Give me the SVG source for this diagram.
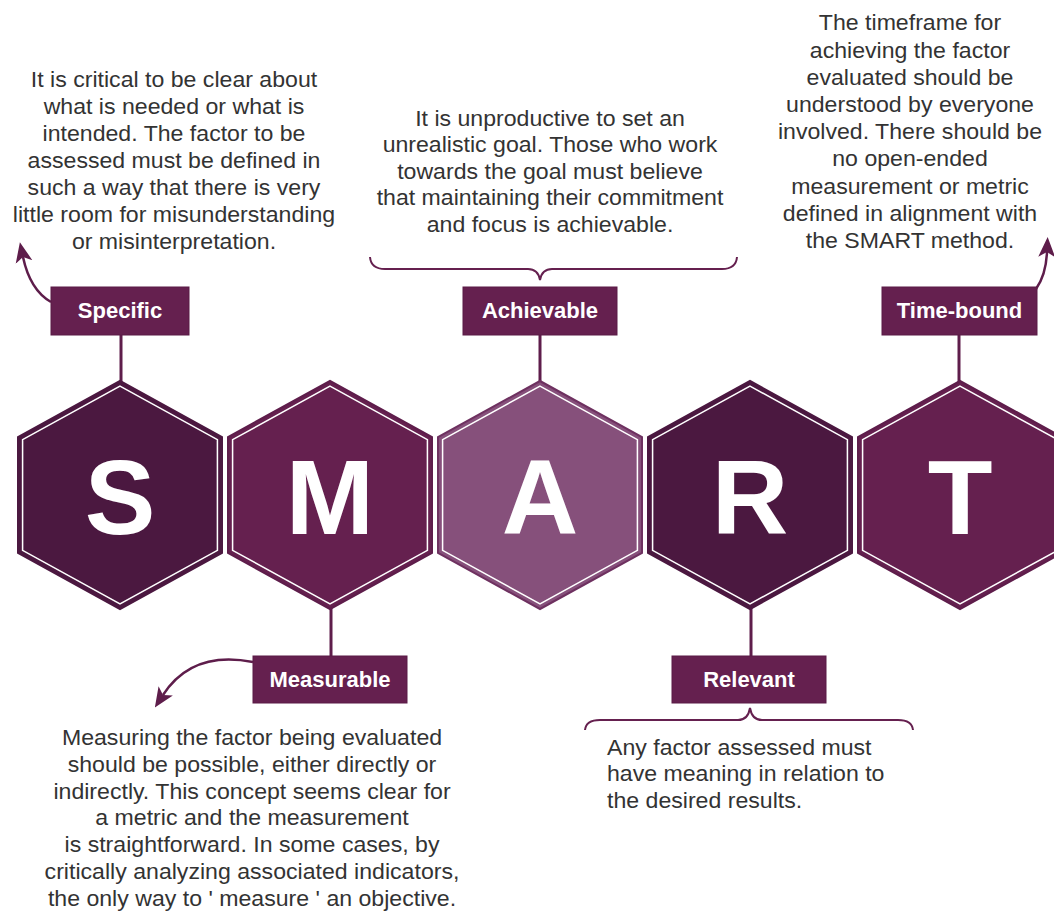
<svg xmlns="http://www.w3.org/2000/svg" xmlns:xlink="http://www.w3.org/1999/xlink" width="1054" height="913" viewBox="0 0 1054 913">
  <style>
    .body { font-family: "Liberation Sans", Arial, sans-serif; font-size: 21.5px; fill: #333333; }
    .mid { text-anchor: middle; }
    .lbl { font-family: "Liberation Sans", Arial, sans-serif; font-size: 22px; font-weight: bold; fill: #ffffff; text-anchor: middle; }
    .big { font-family: "Liberation Sans", Arial, sans-serif; font-size: 106px; font-weight: bold; fill: #ffffff; text-anchor: middle; }
    .box { fill: #65204f; stroke: #5a1a46; stroke-width: 1; }
    .inner { fill: none; stroke: #ffffff; stroke-width: 1.6; }
    .conn { stroke: #5e1d4b; stroke-width: 3; fill: none; }
    .arr { stroke: #5e1d4b; stroke-width: 2.5; fill: none; }
    .brace { stroke: #65204f; stroke-width: 2; fill: none; }
  </style>
  <defs>
    <polygon id="hex" points="0,-114 102,-58 102,58 0,114 -102,58 -102,-58"/>
    <marker id="ah" markerUnits="userSpaceOnUse" markerWidth="20" markerHeight="18" viewBox="0 0 20 18" refX="5" refY="9" orient="auto">
      <path d="M0,0.5 L20,9 L0,17.5 L5,9 Z" fill="#5e1d4b"/>
    </marker>
  </defs>
  <rect width="1054" height="913" fill="#ffffff"/>

  <g id="connectors">
    <line class="conn" x1="121" y1="335" x2="121" y2="382"/>
    <line class="conn" x1="540" y1="335" x2="540" y2="382"/>
    <line class="conn" x1="959" y1="335" x2="959" y2="382"/>
    <line class="conn" x1="331" y1="608" x2="331" y2="656"/>
    <line class="conn" x1="751" y1="608" x2="751" y2="656"/>
    <path class="arr" d="M 51 302 Q 30 290 23 257" marker-end="url(#ah)"/>
    <path class="arr" d="M 1036 289 Q 1046 275 1047 252" marker-end="url(#ah)"/>
    <path class="arr" d="M 253 662 Q 192 650 163 695" marker-end="url(#ah)"/>
    <path class="brace" d="M 370 257 Q 371 269 385 269 L 528 269 Q 538 269 540 280 Q 542 269 552 269 L 722 269 Q 736 269 737 257"/>
    <path class="brace" d="M 585 730 Q 586 720 600 720 L 738 720 Q 748 720 750 708 Q 752 720 762 720 L 898 720 Q 912 720 913 730"/>
  </g>

  <g id="hex-S">
    <use xlink:href="#hex" href="#hex" transform="translate(120,495)" fill="#4b1840" stroke="#4b1840" stroke-width="2"/>
    <use xlink:href="#hex" href="#hex" transform="translate(120,495) scale(0.955)" class="inner"/>
    <text class="big" x="120" y="534">S</text>
  </g>
  <g id="hex-M">
    <use xlink:href="#hex" href="#hex" transform="translate(330,495)" fill="#65204f" stroke="#5e1d4b" stroke-width="2"/>
    <use xlink:href="#hex" href="#hex" transform="translate(330,495) scale(0.955)" class="inner"/>
    <text class="big" x="330" y="534">M</text>
  </g>
  <g id="hex-A">
    <use xlink:href="#hex" href="#hex" transform="translate(540,495)" fill="#86507b" stroke="#6e3160" stroke-width="2"/>
    <use xlink:href="#hex" href="#hex" transform="translate(540,495) scale(0.955)" class="inner"/>
    <text class="big" x="540" y="534">A</text>
  </g>
  <g id="hex-R">
    <use xlink:href="#hex" href="#hex" transform="translate(750,495)" fill="#4b1840" stroke="#4b1840" stroke-width="2"/>
    <use xlink:href="#hex" href="#hex" transform="translate(750,495) scale(0.955)" class="inner"/>
    <text class="big" x="750" y="534">R</text>
  </g>
  <g id="hex-T">
    <use xlink:href="#hex" href="#hex" transform="translate(960,495)" fill="#65204f" stroke="#5e1d4b" stroke-width="2"/>
    <use xlink:href="#hex" href="#hex" transform="translate(960,495) scale(0.955)" class="inner"/>
    <text class="big" x="960" y="534">T</text>
  </g>

  <g id="label-specific">
    <rect class="box" x="51" y="287" width="138" height="48"/>
    <text class="lbl" x="120" y="318">Specific</text>
  </g>
  <g id="label-achievable">
    <rect class="box" x="463" y="287" width="154" height="48"/>
    <text class="lbl" x="540" y="318">Achievable</text>
  </g>
  <g id="label-timebound">
    <rect class="box" x="882" y="287" width="155" height="48"/>
    <text class="lbl" x="959.5" y="318">Time-bound</text>
  </g>
  <g id="label-measurable">
    <rect class="box" x="253" y="656" width="154" height="47"/>
    <text class="lbl" x="330" y="687">Measurable</text>
  </g>
  <g id="label-relevant">
    <rect class="box" x="672" y="656" width="154" height="47"/>
    <text class="lbl" x="749" y="687">Relevant</text>
  </g>

  <g id="text-specific" transform="translate(174,0) scale(1.075,1)" class="body mid">
    <text x="0" y="87">It is critical to be clear about</text>
    <text x="0" y="114">what is needed or what is</text>
    <text x="0" y="141">intended. The factor to be</text>
    <text x="0" y="168">assessed must be defined in</text>
    <text x="0" y="195">such a way that there is very</text>
    <text x="0" y="222">little room for misunderstanding</text>
    <text x="0" y="249">or misinterpretation.</text>
  </g>
  <g id="text-achievable" transform="translate(550,0) scale(1.075,1)" class="body mid">
    <text x="0" y="126">It is unproductive to set an</text>
    <text x="0" y="152.5">unrealistic goal. Those who work</text>
    <text x="0" y="179">towards the goal must believe</text>
    <text x="0" y="205.5">that maintaining their commitment</text>
    <text x="0" y="232">and focus is achievable.</text>
  </g>
  <g id="text-timebound" transform="translate(910,0) scale(1.075,1)" class="body mid">
    <text x="0" y="30.5">The timeframe for</text>
    <text x="0" y="57.7">achieving the factor</text>
    <text x="0" y="84.9">evaluated should be</text>
    <text x="0" y="112">understood by everyone</text>
    <text x="0" y="139.3">involved. There should be</text>
    <text x="0" y="166.5">no open-ended</text>
    <text x="0" y="193.7">measurement or metric</text>
    <text x="0" y="221">defined in alignment with</text>
    <text x="0" y="248">the SMART method.</text>
  </g>
  <g id="text-measurable" transform="translate(252,0) scale(1.075,1)" class="body mid">
    <text x="0" y="745">Measuring the factor being evaluated</text>
    <text x="0" y="772">should be possible, either directly or</text>
    <text x="0" y="799">indirectly. This concept seems clear for</text>
    <text x="0" y="825">a metric and the measurement</text>
    <text x="0" y="852">is straightforward. In some cases, by</text>
    <text x="0" y="879">critically analyzing associated indicators,</text>
    <text x="0" y="906">the only way to ' measure ' an objective.</text>
  </g>
  <g id="text-relevant" transform="translate(607,0) scale(1.075,1)" class="body">
    <text x="0" y="755">Any factor assessed must</text>
    <text x="0" y="781.5">have meaning in relation to</text>
    <text x="0" y="808">the desired results.</text>
  </g>
</svg>
